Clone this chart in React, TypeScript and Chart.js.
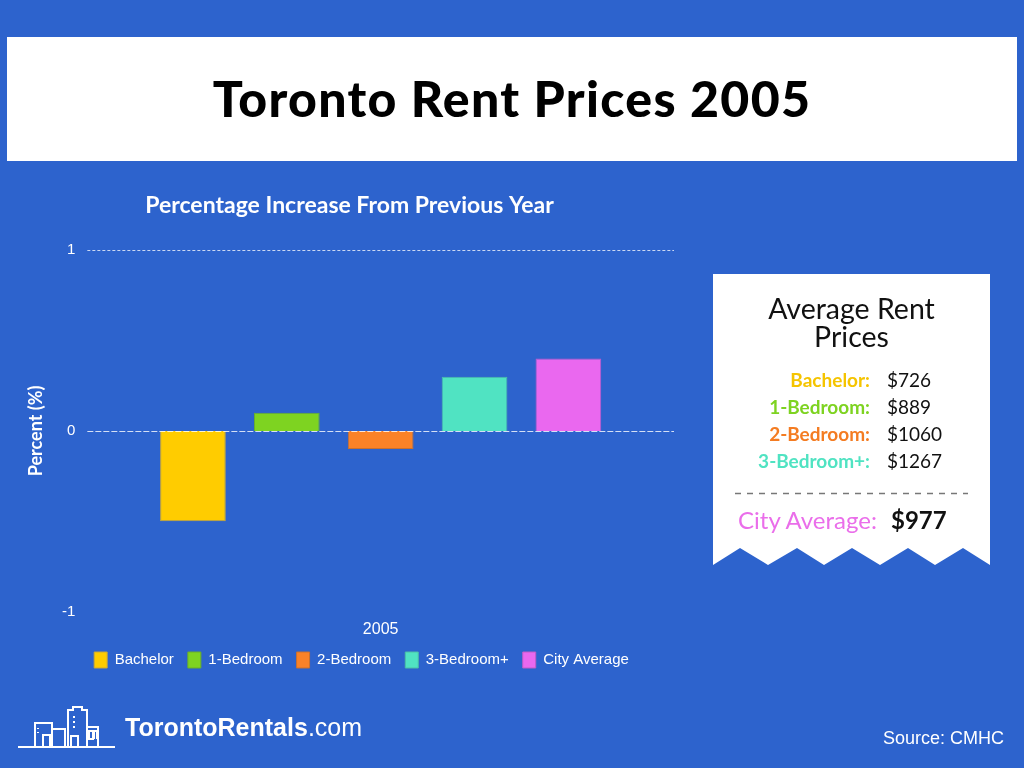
import React, { useEffect, useRef } from "react";
import { Chart, registerables } from "chart.js";

Chart.register(...registerables);

const categories = ["2005"];
const seriesNames = ["Bachelor", "1-Bedroom", "2-Bedroom", "3-Bedroom+", "City Average"];
const seriesValues = [-0.5, 0.1, -0.1, 0.3, 0.4];
const seriesColors = ["#ffcc00", "#7ed321", "#fa8228", "#50e3c2", "#ea68ef"];
const seriesBorders = ["#c9a83a", "#6aae2a", "#c9702e", "#4cbfa6", "#c25cc6"];
const yTicks = [-1, 0, 1];

const priceLabels = ["Bachelor:", "1-Bedroom:", "2-Bedroom:", "3-Bedroom+:"];
const priceValues = ["$726", "$889", "$1060", "$1267"];
const priceColors = ["#f5c400", "#7ed321", "#f47c22", "#50e3c2"];
const cityAverageLabel = "City Average:";
const cityAverageValue = "$977";

const BLUE = "#2d63cd";

const gridPlugin = {
  id: "dashedGrid",
  beforeDatasetsDraw(chart: any) {
    const { ctx, chartArea, scales } = chart;
    const y = scales.y;
    ctx.save();
    ctx.strokeStyle = "rgba(255,255,255,0.75)";
    ctx.lineWidth = 1;
    ctx.setLineDash([3, 2]);
    const py = Math.round(y.getPixelForValue(1)) + 0.5;
    ctx.beginPath();
    ctx.moveTo(chartArea.left, py);
    ctx.lineTo(chartArea.right, py);
    ctx.stroke();
    ctx.restore();
  },
  afterDatasetsDraw(chart: any) {
    const { ctx, chartArea, scales } = chart;
    const y = scales.y;
    ctx.save();
    ctx.strokeStyle = "rgba(255,255,255,0.8)";
    ctx.lineWidth = 1;
    ctx.setLineDash([6, 2]);
    const py = Math.round(y.getPixelForValue(0)) + 0.5;
    ctx.beginPath();
    ctx.moveTo(chartArea.left, py);
    ctx.lineTo(chartArea.right, py);
    ctx.stroke();
    ctx.restore();
  },
};

const legendShift = {
  id: "legendShift",
  afterLayout(chart: any) {
    const l = chart.legend;
    if (l) {
      l.left += 12;
      l.right += 12;
      l.top -= 9;
      l.bottom -= 9;
    }
  },
};

function BarChart() {
  const ref = useRef<HTMLCanvasElement>(null);
  useEffect(() => {
    if (!ref.current) return;
    const chart = new Chart(ref.current, {
      type: "bar",
      data: {
        labels: categories,
        datasets: seriesNames.map((name, i) => ({
          label: name,
          data: [seriesValues[i]],
          backgroundColor: seriesColors[i],
          borderColor: seriesBorders[i],
          borderWidth: 1,
          barPercentage: 0.7,
          categoryPercentage: 0.8,
        })),
      },
      options: {
        animation: false,
        responsive: false,
        devicePixelRatio: 1,
        layout: { padding: { left: 9, right: 32, top: 0, bottom: 0 } },
        plugins: {
          title: {
            display: true,
            text: "Percentage Increase From Previous Year",
            color: "#ffffff",
            font: { family: "Lato", size: 23, weight: "bold" },
            padding: { top: 12, bottom: 30.4 },
          },
          legend: {
            position: "bottom",
            labels: {
              color: "#ffffff",
              font: { family: "Liberation Sans", size: 15 },
              boxWidth: 13,
              boxHeight: 16,
              padding: 14,
            },
          },
          tooltip: { enabled: false },
        },
        scales: {
          x: {
            grid: { display: false, drawTicks: false },
            border: { display: false },
            ticks: {
              color: "#ffffff",
              font: { family: "Liberation Sans", size: 16 },
              padding: 8,
            },
          },
          y: {
            min: yTicks[0],
            max: yTicks[yTicks.length - 1],
            grid: { display: false, drawTicks: false },
            border: { display: false },
            ticks: {
              stepSize: 1,
              color: "#ffffff",
              font: { family: "Liberation Sans", size: 15 },
              padding: 12,
            },
            title: {
              display: true,
              text: "Percent (%)",
              color: "#ffffff",
              font: { family: "Lato", size: 18, weight: "bold" },
              padding: { top: 0, bottom: 3.4 },
            },
          },
        },
      },
      plugins: [gridPlugin, legendShift],
    } as any);
    return () => chart.destroy();
  }, []);
  return (
    <canvas
      ref={ref}
      width={690}
      height={507}
      style={{ position: "absolute", left: 16, top: 180, width: 690, height: 507 }}
    />
  );
}

export default function App() {
  const cardPoints =
    "713,274 990,274 990,565 963,548 935,565 908,548 880,565 852,548 824,565 797,548 768,565 740,548 713,565";
  return (
    <div
      style={{
        position: "fixed",
        left: 0,
        top: 0,
        width: 1024,
        height: 768,
        background: BLUE,
        overflow: "hidden",
        fontFamily: "Lato, sans-serif",
      }}
    >
      <div
        style={{
          position: "absolute",
          left: 7,
          top: 37,
          width: 1010,
          height: 124,
          background: "#ffffff",
        }}
      />
      <div
        style={{
          position: "absolute",
          left: 0,
          top: 36,
          width: 1024,
          height: 124,
          display: "flex",
          alignItems: "center",
          justifyContent: "center",
          fontFamily: "Lato",
          fontWeight: 900,
          fontSize: 50,
          color: "#000",
          letterSpacing: 1.3,
        }}
      >
        Toronto Rent Prices 2005
      </div>

      <BarChart />

      <svg
        width={1024}
        height={768}
        style={{ position: "absolute", left: 0, top: 0, pointerEvents: "none" }}
      >
        <polygon points={cardPoints} fill="#ffffff" />
        <line x1={735} y1={493.5} x2={968} y2={493.5} stroke="#777" strokeWidth={1.5} strokeDasharray="6 6" />
        <g stroke="#ffffff" strokeWidth={2} fill="none">
          <path d="M18 747 H115" />
          <path d="M35 747 V723 H52 V730" />
          <path d="M43 747 V735 H50 V747" />
          <path d="M52 747 V729 H65 V747" />
          <path d="M68 747 V710 H73 V707 H82 V710 H87 V747" />
          <path d="M71 747 V736 H78 V747" />
          <path d="M87 747 V727 H98 V747" />
          <path d="M89 739 V731 H93 V739 Z" />
          <path d="M94 739 V731 H97 V739" />
          <path d="M38 728 V729 M38 732 V733" />
          <path d="M74 716 V718 M74 721 V723 M74 726 V728" />
        </g>
      </svg>

      <div
        style={{
          position: "absolute",
          left: 713,
          top: 294,
          width: 277,
          textAlign: "center",
          fontFamily: "Lato",
          fontSize: 28.5,
          lineHeight: "28px",
          color: "#111",
        }}
      >
        Average Rent
        <br />
        Prices
      </div>
      {priceLabels.map((lbl, i) => (
        <React.Fragment key={lbl}>
          <div
            style={{
              position: "absolute",
              right: 1024 - 870,
              top: 368 + i * 27,
              fontFamily: "Lato",
              fontWeight: 700,
              fontSize: 19,
              lineHeight: "24px",
              color: priceColors[i],
              whiteSpace: "nowrap",
            }}
          >
            {lbl}
          </div>
          <div
            style={{
              position: "absolute",
              left: 887,
              top: 368 + i * 27,
              fontFamily: "Lato",
              fontSize: 19,
              lineHeight: "24px",
              color: "#111",
              whiteSpace: "nowrap",
            }}
          >
            {priceValues[i]}
          </div>
        </React.Fragment>
      ))}
      <div
        style={{
          position: "absolute",
          left: 738,
          top: 506,
          fontFamily: "Lato",
          fontSize: 24,
          lineHeight: "28px",
          color: "#ea6eea",
          whiteSpace: "nowrap",
        }}
      >
        {cityAverageLabel}
      </div>
      <div
        style={{
          position: "absolute",
          left: 891,
          top: 506,
          fontFamily: "Lato",
          fontWeight: 700,
          fontSize: 24,
          lineHeight: "28px",
          color: "#111",
          whiteSpace: "nowrap",
        }}
      >
        {cityAverageValue}
      </div>

      <div
        style={{
          position: "absolute",
          left: 125,
          top: 712,
          fontFamily: "Liberation Sans, Arial, sans-serif",
          fontSize: 25,
          lineHeight: "30px",
          color: "#ffffff",
          whiteSpace: "nowrap",
        }}
      >
        <span style={{ fontWeight: 700 }}>TorontoRentals</span>.com
      </div>
      <div
        style={{
          position: "absolute",
          left: 883,
          top: 728,
          fontFamily: "Liberation Sans, Arial, sans-serif",
          fontSize: 18,
          lineHeight: "20px",
          color: "#ffffff",
          whiteSpace: "nowrap",
        }}
      >
        Source: CMHC
      </div>
    </div>
  );
}
